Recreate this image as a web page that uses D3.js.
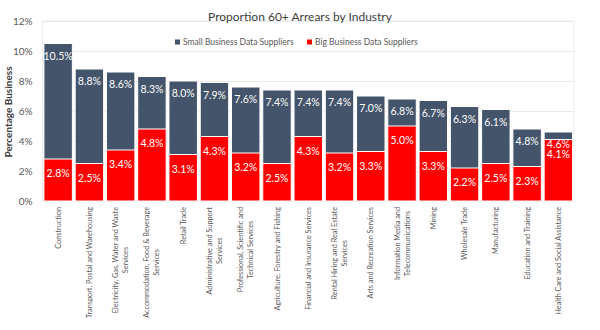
<!DOCTYPE html>
<html><head><meta charset="utf-8">
<script src="https://cdn.jsdelivr.net/npm/d3@7"></script>
<style>body{margin:0;background:#fff} svg{display:block}</style>
</head><body><svg id="c" width="600" height="330"></svg>
<script>
const categories = [
  "Construction",
  "Transport, Postal and Warehousing",
  "Electricity, Gas, Water and Waste\nServices",
  "Accommodation, Food & Beverage\nServices",
  "Retail Trade",
  "Administrative and Support\nServices",
  "Professional, Scientific and\nTechnical Services",
  "Agriculture, Forestry and Fishing",
  "Financial and Insurance Services",
  "Rental Hiring and Real Estate\nServices",
  "Arts and Recreation Services",
  "Information Media and\nTelecommunications",
  "Mining",
  "Wholesale Trade",
  "Manufacturing",
  "Education and Training",
  "Health Care and Social Assistance"
];
const smallValues = [10.5, 8.8, 8.6, 8.3, 8.0, 7.9, 7.6, 7.4, 7.4, 7.4, 7.0, 6.8, 6.7, 6.3, 6.1, 4.8, 4.6];
const bigValues   = [2.8, 2.5, 3.4, 4.8, 3.1, 4.3, 3.2, 2.5, 4.3, 3.2, 3.3, 5.0, 3.3, 2.2, 2.5, 2.3, 4.1];
const yTicks = [0, 2, 4, 6, 8, 10, 12];
const seriesNames = ["Small Business Data Suppliers", "Big Business Data Suppliers"];
const seriesColors = ["#44546A", "#FF0000"];
const chartTitle = "Proportion 60+ Arrears by Industry";
const yTitle = "Percentage Business";

const FONT = "Lato, 'Open Sans', sans-serif";
const svg = d3.select("#c").style("font-family", FONT);

const x = d3.scaleBand().domain(categories).range([42.5, 574]).paddingInner(0.09).paddingOuter(0.045);
const y = d3.scaleLinear().domain([0, 12]).range([201, 21]);

// plot area border and gridlines
svg.append("rect").attr("x", 42.5).attr("y", 21).attr("width", 531.5).attr("height", 180)
  .attr("fill", "none").attr("stroke", "#eeeeee");
svg.append("g").selectAll("line").data(yTicks).join("line")
  .attr("x1", 42.5).attr("x2", 574).attr("y1", d => y(d) + 0.5).attr("y2", d => y(d) + 0.5)
  .attr("stroke", "#e9e9e9");

// y axis
const yAxis = d3.axisLeft(y).tickValues(yTicks).tickFormat(d => d + "%").tickSize(0).tickPadding(10);
const ya = svg.append("g").attr("transform", "translate(42.5,0)").call(yAxis);
ya.select(".domain").remove();
ya.selectAll("text").attr("font-family", FONT).attr("font-size", 10).attr("fill", "#595959");

// bars
const data = categories.map((c, i) => ({c, s: smallValues[i], b: bigValues[i]}));
const g = svg.append("g");
g.selectAll("rect.s").data(data).join("rect").attr("class", "s")
  .attr("x", d => x(d.c)).attr("width", x.bandwidth())
  .attr("y", d => y(d.s)).attr("height", d => y(0) - y(d.s))
  .attr("fill", seriesColors[0]).attr("stroke", "#ffffff").attr("stroke-width", 1);
g.selectAll("rect.b").data(data).join("rect").attr("class", "b")
  .attr("x", d => x(d.c)).attr("width", x.bandwidth())
  .attr("y", d => y(d.b)).attr("height", d => y(0) - y(d.b))
  .attr("fill", seriesColors[1]).attr("stroke", "#ffffff").attr("stroke-width", 1);

// labels
const lab = svg.append("g").attr("font-size", 10.5).attr("fill", "#ffffff").attr("text-anchor", "middle");
lab.selectAll("text.s").data(data).join("text").attr("class", "s")
  .attr("x", d => x(d.c) + x.bandwidth() / 2).attr("y", d => y(d.s) + 12.5).attr("dy", "0.35em")
  .text(d => d.s.toFixed(1) + "%");
lab.selectAll("text.b").data(data).join("text").attr("class", "b")
  .attr("x", d => x(d.c) + x.bandwidth() / 2).attr("y", d => y(d.b) + 14.5).attr("dy", "0.35em")
  .text(d => d.b.toFixed(1) + "%");

// x axis labels (rotated)
const xl = svg.append("g").attr("font-size", 7.3).attr("fill", "#595959");
data.forEach(d => {
  const lines = d.c.split("\n");
  const cx = x(d.c) + x.bandwidth() / 2;
  const t = xl.append("text").attr("transform", `translate(${cx},207) rotate(-90)`);
  lines.forEach((ln, k) => {
    t.append("tspan").attr("x", 0).attr("y", (k - (lines.length - 1) / 2) * 10).attr("dy", "0.35em").text(ln);
  });
  const lens = [];
  t.selectAll("tspan").each(function() { lens.push(this.getComputedTextLength()); });
  const L = Math.max(...lens);
  t.selectAll("tspan").attr("text-anchor", "middle").attr("x", -L / 2);
});

// title
svg.append("text").attr("x", 300).attr("y", 17).attr("dy", "0.35em").attr("text-anchor", "middle")
  .attr("font-size", 12).attr("fill", "#404040").text(chartTitle);

// legend
const leg = svg.append("g").attr("font-size", 8.5).attr("fill", "#595959");
const legX = [175, 307];
seriesNames.forEach((n, i) => {
  leg.append("rect").attr("x", legX[i]).attr("y", 39.5).attr("width", 5).attr("height", 5).attr("fill", seriesColors[i]);
  leg.append("text").attr("x", legX[i] + 8).attr("y", 42).attr("dy", "0.35em").text(n);
});

// y title
svg.append("text").attr("transform", "translate(8,112) rotate(-90)").attr("dy", "0.35em")
  .attr("text-anchor", "middle").attr("font-size", 10).attr("font-weight", "bold").attr("fill", "#404040")
  .text(yTitle);
</script>
</body></html>
